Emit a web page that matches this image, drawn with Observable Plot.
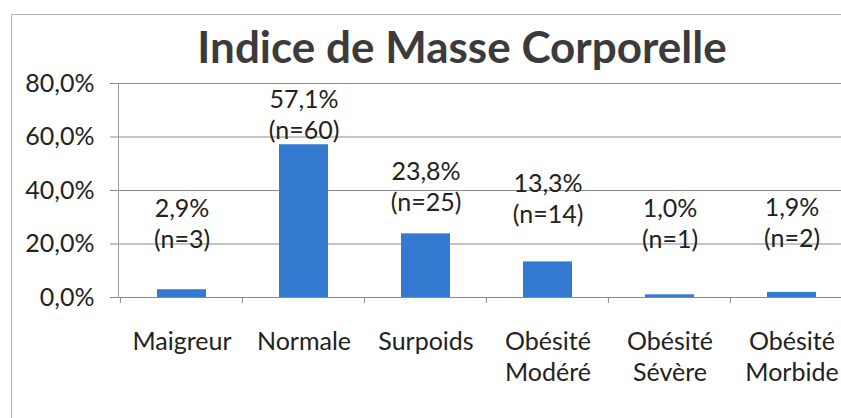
<!DOCTYPE html>
<html>
<head>
<meta charset="utf-8">
<script src="https://cdn.jsdelivr.net/npm/d3@7"></script>
<script src="https://cdn.jsdelivr.net/npm/@observablehq/plot@0.6"></script>
<style>
  html, body { margin: 0; padding: 0; background: #fff; overflow: hidden; }
  #wrap { position: relative; width: 841px; height: 418px; overflow: hidden; }
  #frame { position: absolute; left: 11px; top: 14px; width: 900px; height: 500px; border: 1px solid #b5b5b5; box-sizing: border-box; }
  #title { position: absolute; left: 0; width: 924px; top: 19px; text-align: center; font-family: Lato, sans-serif; font-weight: bold; font-size: 44px; color: #3b3b3b; line-height: 54px; }
  #chart { position: absolute; left: 0; top: 0; }
  #chart svg { max-width: none !important; }
</style>
</head>
<body>
<div id="wrap">
  <div id="frame"></div>
  <div id="chart"></div>
  <div id="title">Indice de Masse Corporelle</div>
</div>
<script>
// ---- data ----
const categories = ["Maigreur", "Normale", "Surpoids", "Obésité Modéré", "Obésité Sévère", "Obésité Morbide"];
const percents = [2.9, 57.1, 23.8, 13.3, 1.0, 1.9];
const counts = [3, 60, 25, 14, 1, 2];
const yTicks = [0, 20, 40, 60, 80];

// ---- layout: pixel gap between bar top and centre of each label's lower line ----
const labelLift = [52, 16, 33, 49, 57, 55];

const data = categories.map((c, i) => ({cat: c, pct: percents[i], n: counts[i], lift: labelLift[i]}));
const fmt = v => v.toFixed(1).replace(".", ",") + "%";
const font = "Lato, sans-serif";
const FS = 25;
const LH = 1.24;

const W = 870, H = 418;
const plot = Plot.plot({
  width: W,
  height: H,
  marginLeft: 118,
  marginRight: 16,
  marginTop: 83,
  marginBottom: 121,
  style: {fontFamily: font, fontSize: FS + "px", color: "#222", background: "transparent", overflow: "visible", maxWidth: "none"},
  x: {domain: categories, paddingInner: 0.6, paddingOuter: 0.3, axis: null},
  y: {domain: [0, 80], axis: null},
  marks: [
    Plot.gridY(yTicks, {stroke: "#8a8a8a", strokeOpacity: 1}),
    Plot.axisY(yTicks, {label: null, tickSize: 8, tickPadding: 16, stroke: "#8a8a8a", tickFormat: fmt, fontSize: FS, fill: "#222"}),
    Plot.frame({anchor: "left", stroke: "#9a9a9a"}),
    Plot.barY(data, {x: "cat", y: "pct", fill: "#347ad0"}),
    ...data.map(d => Plot.text([d], {
      x: "cat", y: "pct",
      text: r => fmt(r.pct) + "\n(n=" + r.n + ")",
      lineAnchor: "middle", lineHeight: LH,
      dy: -(d.lift + FS * LH / 2),
      fontSize: FS, fill: "#222"
    })),
    Plot.text(categories, {
      x: d => d, y: 0,
      text: d => d.replace(" ", "\n"),
      lineAnchor: "top", dy: 30, lineHeight: LH,
      fontSize: FS, fill: "#222"
    })
  ]
});
document.getElementById("chart").appendChild(plot);

// category boundary ticks on the x axis, placed through the band scale
const svg = d3.select(plot);
const xs = plot.scale("x");
const ys = plot.scale("y");
const y0 = ys.apply(0);
const half = xs.step * xs.paddingInner / 2;
const bounds = categories.map(c => xs.apply(c) - half)
  .concat([xs.apply(categories[categories.length - 1]) + xs.bandwidth + half]);
svg.append("g").attr("stroke", "#8a8a8a").selectAll("line").data(bounds).join("line")
  .attr("x1", d => d).attr("x2", d => d).attr("y1", y0).attr("y2", y0 + 6);
</script>
</body>
</html>
